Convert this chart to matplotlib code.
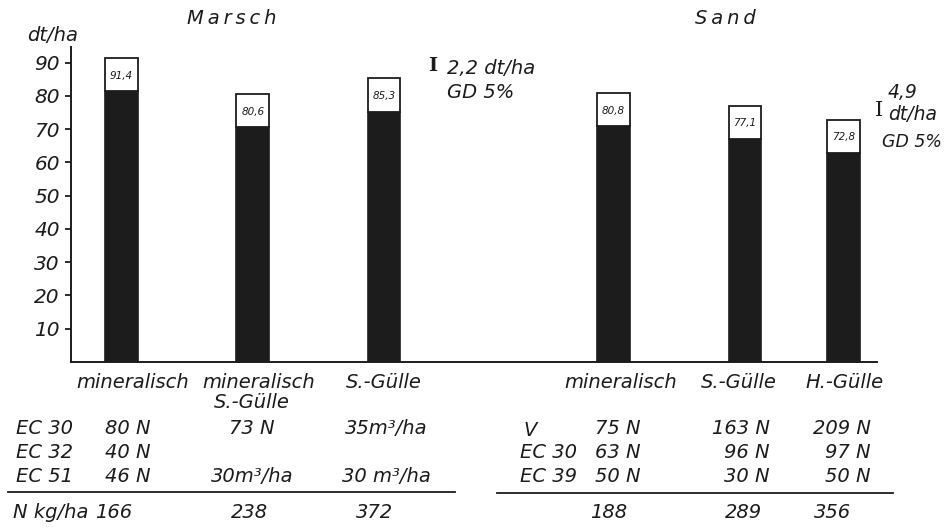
import matplotlib.pyplot as plt
from matplotlib.lines import Line2D

# Ertrag dt/ha, Marsch (3 Varianten) und Sand (3 Varianten)
soils = ['Marsch', 'Sand']
variants = ['mineralisch', 'mineralisch\nS.-Gülle', 'S.-Gülle',
            'mineralisch', 'S.-Gülle', 'H.-Gülle']
ertrag = [91.4, 80.6, 85.3, 80.8, 77.1, 72.8]
gd = [2.2, 4.9]
yticks = [10, 20, 30, 40, 50, 60, 70, 80, 90]

# Düngung (Tabelle unter dem Diagramm)
marsch_stages = ['EC 30', 'EC 32', 'EC 51']
marsch_gaben = [['80 N', '40 N', '46 N'],
                ['73 N', '', '30m³/ha'],
                ['35m³/ha', '', '30 m³/ha']]
marsch_n = [166, 238, 372]
sand_stages = ['V', 'EC 30', 'EC 39']
sand_gaben = [['75 N', '63 N', '50 N'],
              ['163 N', '96 N', '30 N'],
              ['209 N', '97 N', '50 N']]
sand_n = [188, 289, 356]

W, H = 946, 528
ink = '#1c1c1c'
plt.rcParams['font.family'] = 'DejaVu Sans'
plt.rcParams['font.style'] = 'italic'
plt.rcParams['text.color'] = ink

fig = plt.figure(figsize=(W / 100, H / 100), dpi=100)
ax = fig.add_axes([71 / W, 1 - 362 / H, (877 - 71) / W, (362 - 47) / H])

xpos = [0, 1, 2, 3.75, 4.75, 5.5]   # bar positions (layout only)
box = 10                              # height of the white value box
black = [v - box for v in ertrag]
ax.bar(xpos, black, width=0.25, color=ink, edgecolor=ink, linewidth=1.2)
ax.bar(xpos, [box] * len(ertrag), bottom=black, width=0.25,
       color='white', edgecolor=ink, linewidth=1.3)
for x, v in zip(xpos, ertrag):
    ax.text(x, v - box / 2 - 0.3, '{:.1f}'.format(v).replace('.', ','),
            ha='center', va='center', fontsize=7.5)

ax.set_xlim(-0.385, 5.756)
ax.set_ylim(0, 94.7)
ax.set_yticks(yticks)
ax.set_xticks([])
ax.spines['top'].set_visible(False)
ax.spines['right'].set_visible(False)
for s in ['left', 'bottom']:
    ax.spines[s].set_linewidth(1.4)
    ax.spines[s].set_color(ink)
ax.tick_params(axis='y', direction='out', length=4, width=1.3, pad=4,
               labelsize=14.5, colors=ink)


def ftext(x, y, s, **kw):
    # place text by pixel position (from top-left)
    kw.setdefault('va', 'center')
    kw.setdefault('fontsize', 14)
    fig.text(x / W, 1 - y / H, s, **kw)


def fline(x0, x1, y):
    fig.add_artist(Line2D([x0 / W, x1 / W], [1 - y / H, 1 - y / H],
                          color=ink, linewidth=1.3))


ftext(53, 36, 'dt/ha', ha='center')
ftext(232, 18, '\u2009'.join(soils[0]), ha='center')
ftext(725, 18, '\u2009'.join(soils[1]), ha='center')

# GD 5% markers
ftext(433, 66, 'I', ha='center', family='DejaVu Serif', style='normal',
      weight='bold')
ftext(447, 68, '{} dt/ha'.format(str(gd[0]).replace('.', ',')), ha='left')
ftext(447, 93, 'GD 5%', ha='left')
ftext(879, 110, 'I', ha='center', family='DejaVu Serif', style='normal',
      fontsize=15)
ftext(888, 93, str(gd[1]).replace('.', ','), ha='left', fontsize=13.5)
ftext(888, 115, 'dt/ha', ha='left', fontsize=13.5)
ftext(882, 142, 'GD 5%', ha='left', fontsize=12.5)

# category labels
cat_x = [133, 259, 384, 621, 739, 845]
for x, lab in zip(cat_x, variants):
    for i, part in enumerate(lab.split('\n')):
        ftext(x - 7 * i, 383 + 20 * i, part, ha='center')

rows_y = [429, 453, 476]

# Marsch table
for y, st in zip(rows_y, marsch_stages):
    ftext(16, y, st, ha='left')
for y, g in zip(rows_y, marsch_gaben[0]):
    ftext(105, y, g, ha='left')
for y, g in zip(rows_y, marsch_gaben[1]):
    ftext(252, y, g, ha='center')
for y, g in zip(rows_y, marsch_gaben[2]):
    ftext(386, y, g, ha='center')
fline(8, 455, 492)
ftext(13, 513, 'N kg/ha', ha='left')
for x, n in zip([114, 249, 375], marsch_n):
    ftext(x, 513, str(n), ha='center')

# Sand table
for y, st in zip(rows_y, sand_stages):
    ftext(520 if st != 'V' else 523, y + (2 if st == 'V' else 0), st, ha='left')
for y, g in zip(rows_y, sand_gaben[0]):
    ftext(595, y, g, ha='left')
for y, g in zip(rows_y, sand_gaben[1]):
    ftext(770, y, g, ha='right')
for y, g in zip(rows_y, sand_gaben[2]):
    ftext(871, y, g, ha='right')
fline(497, 893, 493)
for x, n in zip([609, 743, 833], sand_n):
    ftext(x, 513, str(n), ha='center')

fig.savefig('out.png', dpi=100)
